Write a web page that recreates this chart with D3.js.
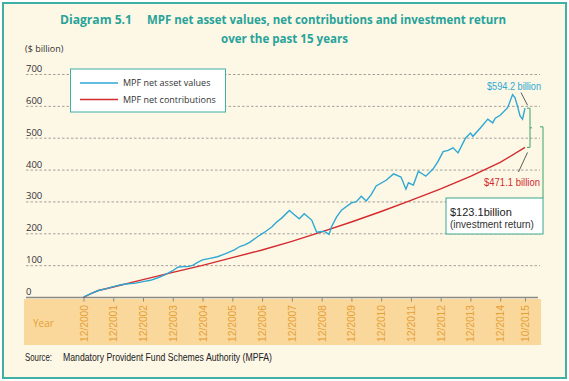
<!DOCTYPE html>
<html><head><meta charset="utf-8">
<script src="https://cdn.jsdelivr.net/npm/d3@7/dist/d3.min.js"></script>
<style>
html,body{margin:0;padding:0;background:#fff;}
svg{display:block;}
.narrow{font-family:"Liberation Sans Narrow","Arial Narrow","Liberation Sans",sans-serif;}
</style></head>
<body>
<svg id="chart" width="569" height="381"></svg>
<script>
// ---- data ($ billion) ----
const navDates = ["2000-12","2001-03","2001-06","2001-09","2001-12","2002-03","2002-06","2002-09","2002-12",
"2003-03","2003-06","2003-09","2003-12","2004-02","2004-04","2004-06","2004-08","2004-10","2004-12",
"2005-03","2005-06","2005-08","2005-10","2006-01","2006-03","2006-05","2006-07","2006-10","2007-01",
"2007-04","2007-06","2007-08","2007-11","2008-01","2008-03","2008-05","2008-08","2008-10","2009-01",
"2009-03","2009-04","2009-06","2009-08","2009-12","2010-02","2010-04","2010-06","2010-08","2010-10",
"2011-02","2011-05","2011-08","2011-10","2011-11","2012-01","2012-03","2012-05","2012-06","2012-09",
"2012-11","2013-01","2013-03","2013-05","2013-07","2013-10","2013-12","2014-01","2014-04","2014-07",
"2014-09","2014-10","2014-12","2015-03","2015-05","2015-06","2015-07","2015-08","2015-09","2015-10"];
const navValues = [2,12,22,27,34,40,43,45,50,
54,62,72,84,95,97,97,101,110,118,
123,128,134,140,150,160,165,173,190,205,
222,238,250,273,260,247,263,243,205,208,
198,222,252,274,297,301,318,303,323,350,
368,388,378,340,360,353,396,386,381,404,
428,458,462,470,454,500,516,506,532,560,
548,563,572,596,637,627,600,570,560,594.2];

const contribDates = ["2000-12","2001-03","2001-06","2001-12","2002-12","2003-12","2004-12","2005-12",
"2006-12","2007-12","2008-12","2009-12","2010-12","2011-12","2012-12","2013-12","2014-12","2015-10"];
const contribValues = [0,12,22,33,56,79,101,125,149,176,206,237,270,305,341,380,424,471.1];

const tickDates = ["2000-12","2001-12","2002-12","2003-12","2004-12","2005-12","2006-12","2007-12",
"2008-12","2009-12","2010-12","2011-12","2012-12","2013-12","2014-12","2015-10"];
const tickLabels = ["12/2000","12/2001","12/2002","12/2003","12/2004","12/2005","12/2006","12/2007",
"12/2008","12/2009","12/2010","12/2011","12/2012","12/2013","12/2014","10/2015"];
const yTicks = [0,100,200,300,400,500,600,700];

const titleLine1a = "Diagram 5.1";
const titleLine1b = "MPF net asset values, net contributions and investment return";
const titleLine2 = "over the past 15 years";
const legendLabels = ["MPF net asset values","MPF net contributions"];
const navEndLabel = "$594.2 billion";
const contribEndLabel = "$471.1 billion";
const returnLabel1 = "$123.1billion";
const returnLabel2 = "(investment return)";
const sourceLabel = "Source:";
const sourceText = "Mandatory Provident Fund Schemes Authority (MPFA)";

// ---- helpers ----
function monthIndex(s){const [y,m]=s.split("-").map(Number);return (y-2000)*12+(m-12);}
const teal="#3fb0a6", blue="#2ea8d3", red="#d42a2e", orange="#e6a035", txt="#333";

const svg=d3.select("#chart");
svg.append("rect").attr("x",3).attr("y",3).attr("width",563).attr("height",375)
  .attr("fill","#fdf7e6").attr("stroke",teal).attr("stroke-width",2);

const x=d3.scaleLinear().domain([0,178]).range([83.5,525]);
const y=d3.scaleLinear().domain([0,700]).range([297.5,74.5]);

// title
const tf='"Open Sans","Noto Sans",sans-serif';
svg.append("text").attr("x",60).attr("y",24).attr("font-family",tf).attr("font-weight","bold")
  .attr("font-size",12.5).attr("fill","#27a39a").attr("textLength",72).attr("lengthAdjust","spacingAndGlyphs").text(titleLine1a);
svg.append("text").attr("x",147).attr("y",24).attr("font-family",tf).attr("font-weight","bold")
  .attr("font-size",12.5).attr("fill","#27a39a").attr("textLength",359).attr("lengthAdjust","spacingAndGlyphs").text(titleLine1b);
svg.append("text").attr("x",221).attr("y",43).attr("font-family",tf).attr("font-weight","bold")
  .attr("font-size",12.5).attr("fill","#27a39a").attr("textLength",127).attr("lengthAdjust","spacingAndGlyphs").text(titleLine2);

svg.append("text").attr("x",25).attr("y",52).attr("font-family",tf).attr("font-size",9).attr("fill",txt).text("($ billion)");

// orange band
svg.append("rect").attr("x",24).attr("y",299).attr("width",517).attr("height",46).attr("fill","#fad89c");

// gridlines
svg.append("g").selectAll("line").data(yTicks.filter(d=>d>0)).join("line")
  .attr("x1",26).attr("x2",540).attr("y1",d=>y(d)).attr("y2",d=>y(d))
  .attr("stroke","#8c8c8c").attr("stroke-width",0.8).attr("stroke-dasharray","2.5,2");
svg.append("g").selectAll("text").data(yTicks).join("text")
  .attr("x",26).attr("y",d=>y(d)-2.5).attr("font-family",tf).attr("font-size",9.5).attr("fill",txt).text(d=>d);

// x axis
const xAxis=d3.axisBottom(x).tickValues(tickDates.map(monthIndex)).tickSize(4).tickFormat("");
const ax=svg.append("g").attr("transform","translate(0,297.5)").call(xAxis);
ax.select(".domain").remove();
ax.selectAll(".tick line").attr("stroke","#8a8a80").attr("stroke-width",1);
svg.append("line").attr("x1",26).attr("x2",538).attr("y1",297.5).attr("y2",297.5).attr("stroke","#8a8a80").attr("stroke-width",1.6);
svg.append("g").selectAll("text").data(tickDates).join("text").attr("class","narrow")
  .attr("transform",(d)=>`translate(${x(monthIndex(d))+0.5},323.5) rotate(-90)`)
  .attr("text-anchor","middle").attr("dy","0.35em").attr("font-size",10).attr("fill",orange)
  .attr("textLength",37).attr("lengthAdjust","spacingAndGlyphs")
  .text((d,i)=>tickLabels[i]);
svg.append("text").attr("x",33).attr("y",327).attr("font-family",tf).attr("font-size",10).attr("fill",orange).text("Year");

// lines
const line=d3.line().x(d=>x(d[0])).y(d=>y(d[1]));
svg.append("path").datum(contribDates.map((d,i)=>[monthIndex(d),contribValues[i]]))
  .attr("d",line).attr("fill","none").attr("stroke",red).attr("stroke-width",1.4);
svg.append("path").datum(navDates.map((d,i)=>[monthIndex(d),navValues[i]]))
  .attr("d",line).attr("fill","none").attr("stroke",blue).attr("stroke-width",1.4);

// legend
svg.append("rect").attr("x",70.5).attr("y",69).attr("width",155).attr("height",43)
  .attr("fill","#fff").attr("stroke",teal).attr("stroke-width",1);
[blue,red].forEach((c,i)=>{
  const yy=83+i*16.5;
  svg.append("line").attr("x1",80).attr("x2",118).attr("y1",yy).attr("y2",yy).attr("stroke",c).attr("stroke-width",1.4);
  svg.append("text").attr("x",123).attr("y",yy+3).attr("font-family",tf).attr("font-size",9).attr("fill",txt).text(legendLabels[i]);
});

// annotations
const xe=x(178), yN=y(594.2), yC=y(471.1);
svg.append("text").attr("class","narrow").attr("x",487).attr("y",89.5)
  .attr("font-size",11).attr("fill",blue).attr("textLength",54).attr("lengthAdjust","spacingAndGlyphs").text(navEndLabel);
svg.append("line").attr("x1",521).attr("y1",92.5).attr("x2",xe+2.5).attr("y2",yN-3).attr("stroke","#333").attr("stroke-width",0.8);
svg.append("text").attr("class","narrow").attr("x",484).attr("y",185.5)
  .attr("font-size",11).attr("fill",red).attr("textLength",56).attr("lengthAdjust","spacingAndGlyphs").text(contribEndLabel);
svg.append("line").attr("x1",518.5).attr("y1",172).attr("x2",xe+2.5).attr("y2",yC+5).attr("stroke","#333").attr("stroke-width",0.8);
// bracket
const bx=xe+5;
svg.append("path").attr("d",`M${bx-3},${yN}H${bx}V${yC}H${bx-3}M${bx},${(yN+yC)/2}h2`)
  .attr("fill","none").attr("stroke","#3aa36a").attr("stroke-width",1);
svg.append("path").attr("d",`M540,${(yN+yC)/2-1}H543V198`).attr("fill","none").attr("stroke","#3aa36a").attr("stroke-width",1);
svg.append("rect").attr("x",446).attr("y",198).attr("width",97).attr("height",36)
  .attr("fill","#fff").attr("stroke","#3aa88f").attr("stroke-width",1);
svg.append("text").attr("x",450).attr("y",216).attr("font-family","Liberation Sans, Arial, sans-serif").attr("font-size",11).attr("fill","#222").text(returnLabel1);
svg.append("text").attr("x",450).attr("y",228).attr("font-family","Liberation Sans, Arial, sans-serif").attr("font-size",10).attr("fill","#333").text(returnLabel2);

// source
svg.append("text").attr("class","narrow").attr("x",25).attr("y",360.5).attr("font-size",10.5).attr("fill","#222")
  .attr("textLength",27).attr("lengthAdjust","spacingAndGlyphs").text(sourceLabel);
svg.append("text").attr("class","narrow").attr("x",63).attr("y",360.5).attr("font-size",10.5).attr("fill","#222")
  .attr("textLength",209).attr("lengthAdjust","spacingAndGlyphs").text(sourceText);
</script>
</body></html>
